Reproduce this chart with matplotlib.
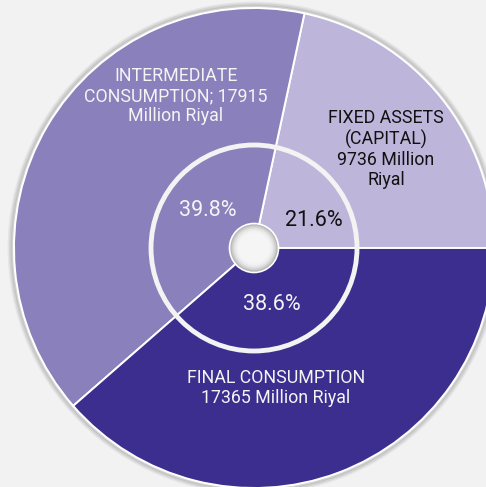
import matplotlib.pyplot as plt
from matplotlib.patches import Circle

# data
labels = ['FIXED ASSETS\n(CAPITAL)\n9736 Million\nRiyal',
          'INTERMEDIATE\nCONSUMPTION; 17915\nMillion Riyal',
          'FINAL CONSUMPTION\n17365 Million Riyal']
values = [9736, 17915, 17365]
colors = ['#bdb6da', '#8a80bb', '#3c2e8f']
text_colors = ['#111111', '#f4f4f4', '#f4f4f4']

W, H = 486, 487
bg = '#f2f2f2'

# layout in pixel coords (y up)
cx, cy = 254, H - 248
R = 240
label_pos = [(386, H - 149), (176, H - 96), (276, H - 388)]
pct_pos = [(314, H - 221), (208, H - 210), (272, H - 304)]

plt.rcParams['font.family'] = ['Roboto', 'DejaVu Sans']

fig = plt.figure(figsize=(W / 100, H / 100), dpi=100)
fig.patch.set_facecolor(bg)
ax = fig.add_axes([0, 0, 1, 1])
ax.set_facecolor(bg)

# soft shadow round the disc
for k, a in zip([5, 3.5, 2], [0.05, 0.08, 0.12]):
    ax.add_patch(Circle((cx, cy), R + k, facecolor='none', edgecolor='k', lw=2, alpha=a, zorder=0))

ax.pie(values, colors=colors, startangle=0, counterclock=True, center=(cx, cy), radius=R,
       wedgeprops=dict(edgecolor='white', linewidth=1.4), frame=True)

# inner ring
ax.add_patch(Circle((cx, cy), 103, facecolor='none', edgecolor='#f3f3f3', lw=3.5, zorder=3))

# centre hole with a bit of shading
shades = ['#b8b8b8', '#cdcdcd', '#dedede', '#e9e9e9', '#f1f1f1', '#f5f5f5']
for i, c in enumerate(shades):
    ax.add_patch(Circle((cx, cy), 24 - i * 1.6, facecolor=c, edgecolor='none', zorder=4))
ax.add_patch(Circle((cx, cy), 24.5, facecolor='none', edgecolor='white', lw=1.2, zorder=5))

total = sum(values)
for i in range(len(values)):
    ax.text(label_pos[i][0], label_pos[i][1], labels[i], ha='center', va='center',
            color=text_colors[i], fontsize=12.8, linespacing=1.15, zorder=6)
    ax.text(pct_pos[i][0], pct_pos[i][1], '{:.1f}%'.format(values[i] / total * 100),
            ha='center', va='center', color=text_colors[i], fontsize=15.5, zorder=6)

ax.set_xlim(0, W)
ax.set_ylim(0, H)
ax.set_aspect('equal')
ax.axis('off')

plt.savefig('out.png', dpi=100, facecolor=bg)
